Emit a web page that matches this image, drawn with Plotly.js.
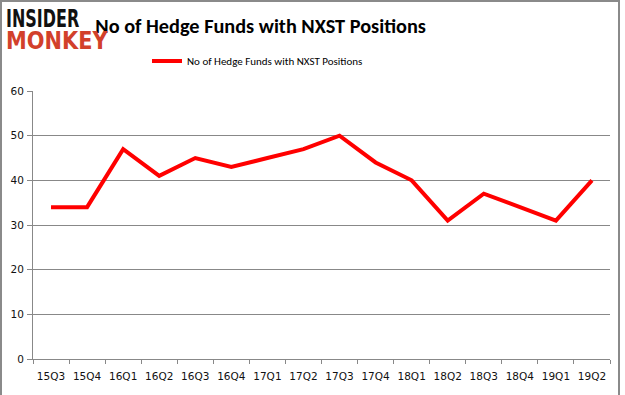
<!DOCTYPE html>
<html>
<head>
<meta charset="utf-8">
<script src="https://cdn.plot.ly/plotly-3.0.1.min.js"></script>
<style>
  html, body { margin:0; padding:0; background:#fff; }
  #wrap { position:relative; width:625px; height:395px; overflow:hidden; }
  #chart { position:absolute; left:0; top:0; width:625px; height:395px; }
  #frame { position:absolute; left:0; top:0; width:620px; height:396px; border:2px solid #8a8a8a; border-bottom:none; pointer-events:none; box-sizing:border-box; }
  .logo { position:absolute; font-family:"DejaVu Sans", sans-serif; font-weight:bold; transform-origin:0 0; white-space:nowrap; line-height:0.8; font-size:24px; }
</style>
</head>
<body>
<div id="wrap">
  <div id="chart"></div>
  <div id="frame"></div>
  <div class="logo" id="logo1" style="left:6px; top:8.6px; color:#111; transform:scale(0.665,1.03);">INSIDER</div>
  <div class="logo" id="logo2" style="left:6px; top:31.4px; color:#d2402b; transform:scale(0.87,1.03);">MONKEY</div>
</div>
<script>
const categories = ["15Q3","15Q4","16Q1","16Q2","16Q3","16Q4","17Q1","17Q2","17Q3","17Q4","18Q1","18Q2","18Q3","18Q4","19Q1","19Q2"];
const hedgeFunds = [34,34,47,41,45,43,45,47,50,44,40,31,37,34,31,40];
const seriesName = "No of Hedge Funds with NXST Positions";
const chartTitle = "No of Hedge Funds with NXST Positions";

const trace = {
  x: categories,
  y: hedgeFunds,
  type: "scatter",
  mode: "lines",
  name: seriesName,
  line: { color: "#ff0000", width: 4 },
  showlegend: true
};

const layout = {
  width: 625, height: 395,
  margin: { l: 33, r: 15, t: 91, b: 36, pad: 0 },
  paper_bgcolor: "rgba(0,0,0,0)",
  plot_bgcolor: "#fff",
  title: {
    text: "<b>" + chartTitle + "</b>",
    font: { family: "Liberation Sans Narrow, Carlito, Roboto, sans-serif", size: 20.3, color: "#000" },
    xref: "container", x: 0.417, xanchor: "center",
    yref: "container", y: 1 - 26/395, yanchor: "middle"
  },
  showlegend: true,
  legend: {
    orientation: "h",
    xref: "container", x: 0.412, xanchor: "center",
    yref: "container", y: 1 - 61/395, yanchor: "middle",
    font: { family: "Liberation Sans Narrow, Carlito, Roboto, sans-serif", size: 11, color: "#000" },
    bgcolor: "rgba(0,0,0,0)",
    itemwidth: 30
  },
  xaxis: {
    type: "category",
    range: [-0.5, 15.5],
    tickson: "boundaries",
    tickangle: 0,
    ticks: "outside", ticklen: 4, tickcolor: "#888", tickwidth: 1,
    showline: true, linecolor: "#888", linewidth: 1,
    showgrid: false, zeroline: false,
    tickfont: { family: "DejaVu Sans, sans-serif", size: 10.5, color: "#111" },
    ticklabelstandoff: 7,
    fixedrange: true
  },
  yaxis: {
    range: [0, 60], dtick: 10, tick0: 0,
    ticks: "outside", ticklen: 5, tickcolor: "#888", tickwidth: 1,
    showline: true, linecolor: "#888", linewidth: 1,
    showgrid: true, gridcolor: "#888", gridwidth: 1,
    zeroline: false,
    tickfont: { family: "DejaVu Sans, sans-serif", size: 10.5, color: "#111" },
    ticklabelstandoff: 1,
    fixedrange: true
  }
};

Plotly.newPlot("chart", [trace], layout, { displayModeBar: false, staticPlot: true });
</script>
</body>
</html>
